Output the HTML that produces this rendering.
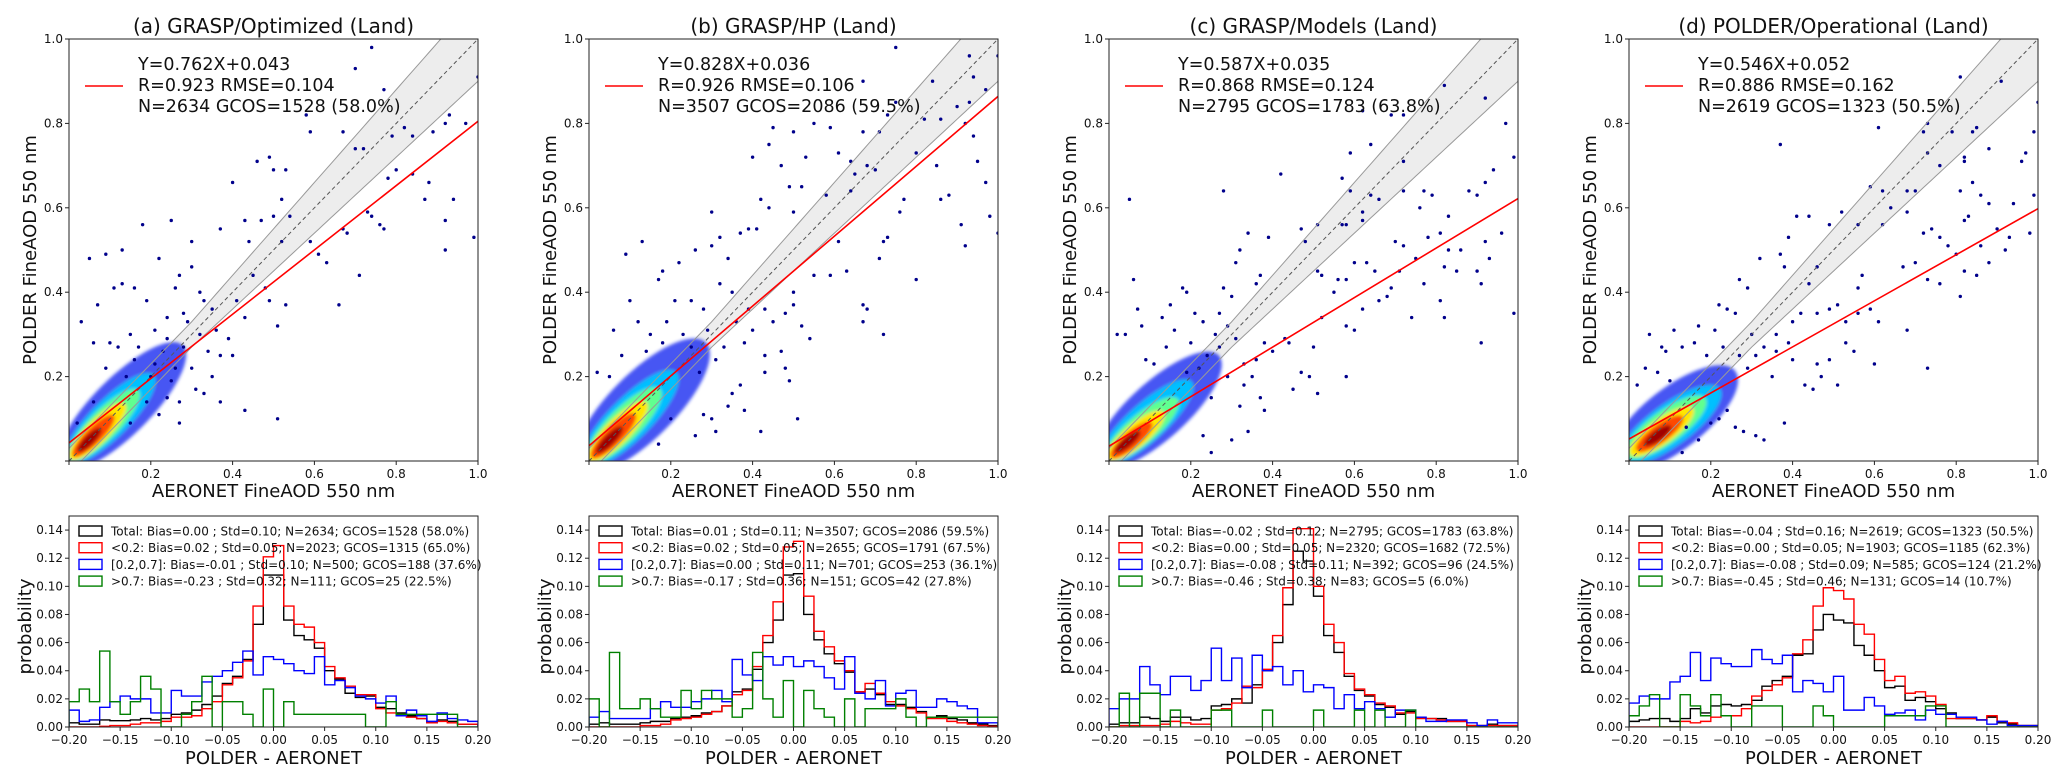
<!DOCTYPE html>
<html><head><meta charset="utf-8">
<style>
html,body{margin:0;padding:0;background:#fff;}
svg{display:block;font-family:"DejaVu Sans","Liberation Sans",sans-serif;}
</style></head>
<body>
<svg id="fig" width="2067" height="781" viewBox="0 0 2067 781" xmlns="http://www.w3.org/2000/svg">
<defs><filter id="blur" x="-20%" y="-20%" width="140%" height="140%"><feGaussianBlur stdDeviation="1.5"/></filter></defs>
</svg>
<script>
// ---------- data ----------
const titles = ["(a) GRASP/Optimized (Land)","(b) GRASP/HP (Land)","(c) GRASP/Models (Land)","(d) POLDER/Operational (Land)"];
const fitSlope = [0.762,0.828,0.587,0.546];
const fitIntercept = [0.043,0.036,0.035,0.052];
const statLine1 = ["Y=0.762X+0.043","Y=0.828X+0.036","Y=0.587X+0.035","Y=0.546X+0.052"];
const statLine2 = ["R=0.923  RMSE=0.104","R=0.926  RMSE=0.106","R=0.868  RMSE=0.124","R=0.886  RMSE=0.162"];
const statLine3 = ["N=2634 GCOS=1528 (58.0%)","N=3507 GCOS=2086 (59.5%)","N=2795 GCOS=1783 (63.8%)","N=2619 GCOS=1323 (50.5%)"];
const scatterTicks = [0.2,0.4,0.6,0.8,1.0];
const scatterTickLabels = ["0.2","0.4","0.6","0.8","1.0"];
// density core layers: [cx, cy, halfLength, halfWidth, angleDeg]
const coreA = [[0.13,0.13,0.21,0.07,45],[0.10,0.10,0.15,0.045,45],[0.085,0.085,0.12,0.036,45],[0.07,0.07,0.095,0.028,45],[0.06,0.06,0.07,0.02,45],[0.05,0.05,0.04,0.012,45]];
const coreB = [[0.13,0.13,0.22,0.08,45],[0.10,0.10,0.16,0.05,45],[0.085,0.085,0.125,0.04,45],[0.07,0.07,0.10,0.03,45],[0.06,0.06,0.075,0.022,45],[0.05,0.05,0.045,0.013,45]];
const coreC = [[0.12,0.12,0.20,0.07,42],[0.09,0.09,0.15,0.045,42],[0.08,0.075,0.115,0.036,40],[0.065,0.06,0.09,0.028,40],[0.055,0.05,0.065,0.02,40],[0.045,0.045,0.04,0.012,40]];
const coreD = [[0.11,0.10,0.19,0.075,38],[0.10,0.085,0.15,0.05,36],[0.09,0.08,0.12,0.04,36],[0.08,0.07,0.095,0.03,36],[0.075,0.065,0.07,0.022,36],[0.07,0.06,0.04,0.013,36]];
const pointsA = [[0.74,0.98],[0.77,0.88],[0.70,0.93],[0.58,0.82],[0.59,0.78],[0.67,0.78],[0.70,0.74],[0.72,0.74],[0.79,0.77],[0.82,0.79],[0.84,0.77],[0.89,0.78],[0.92,0.80],[0.93,0.82],[0.97,0.80],[1.0,0.91],[0.99,0.53],[0.92,0.57],[0.92,0.50],[0.94,0.62],[0.87,0.62],[0.78,0.67],[0.80,0.69],[0.88,0.66],[0.84,0.68],[0.76,0.56],[0.77,0.55],[0.74,0.58],[0.73,0.59],[0.68,0.54],[0.67,0.55],[0.71,0.44],[0.66,0.37],[0.61,0.49],[0.59,0.52],[0.63,0.47],[0.52,0.62],[0.54,0.58],[0.50,0.69],[0.53,0.69],[0.46,0.71],[0.49,0.72],[0.40,0.66],[0.37,0.55],[0.43,0.57],[0.50,0.58],[0.47,0.57],[0.44,0.52],[0.52,0.52],[0.48,0.41],[0.45,0.44],[0.49,0.38],[0.53,0.37],[0.51,0.32],[0.41,0.38],[0.43,0.34],[0.39,0.29],[0.36,0.31],[0.30,0.52],[0.30,0.46],[0.25,0.57],[0.18,0.56],[0.13,0.50],[0.09,0.49],[0.05,0.48],[0.22,0.48],[0.27,0.44],[0.26,0.41],[0.16,0.41],[0.11,0.41],[0.07,0.37],[0.13,0.42],[0.32,0.40],[0.33,0.38],[0.35,0.36],[0.29,0.33],[0.28,0.35],[0.24,0.34],[0.21,0.31],[0.19,0.38],[0.15,0.30],[0.03,0.33],[0.06,0.28],[0.10,0.28],[0.43,0.12],[0.51,0.10],[0.37,0.14],[0.31,0.17],[0.33,0.16],[0.27,0.14],[0.24,0.15],[0.25,0.19],[0.35,0.20],[0.30,0.22],[0.37,0.25],[0.40,0.25],[0.21,0.23],[0.23,0.26],[0.16,0.24],[0.19,0.14],[0.22,0.11],[0.15,0.09],[0.27,0.09],[0.06,0.14],[0.02,0.09],[0.12,0.27],[0.17,0.27],[0.20,0.20],[0.26,0.22],[0.28,0.27],[0.32,0.30],[0.34,0.26],[0.24,0.29],[0.09,0.22],[0.14,0.20]];
const pointsB = [[0.75,0.98],[0.93,0.96],[1.0,0.96],[0.94,0.91],[0.84,0.90],[0.97,0.88],[0.67,0.90],[0.73,0.82],[0.82,0.81],[0.86,0.81],[0.90,0.84],[0.93,0.85],[0.92,0.80],[0.75,0.85],[0.71,0.78],[0.67,0.78],[0.59,0.79],[0.55,0.80],[0.50,0.78],[0.45,0.79],[0.44,0.75],[0.40,0.72],[0.53,0.72],[0.61,0.73],[0.64,0.71],[0.47,0.70],[0.65,0.68],[0.68,0.70],[0.70,0.69],[0.94,0.77],[0.95,0.71],[0.97,0.66],[0.98,0.58],[1.0,0.54],[0.91,0.56],[0.92,0.51],[0.77,0.62],[0.76,0.59],[0.86,0.62],[0.88,0.63],[0.85,0.70],[0.80,0.73],[0.64,0.64],[0.58,0.63],[0.52,0.65],[0.49,0.65],[0.42,0.62],[0.44,0.60],[0.50,0.59],[0.30,0.59],[0.32,0.53],[0.39,0.55],[0.41,0.55],[0.37,0.54],[0.34,0.48],[0.30,0.51],[0.22,0.47],[0.26,0.50],[0.13,0.52],[0.09,0.49],[0.18,0.45],[0.17,0.43],[0.63,0.45],[0.59,0.44],[0.55,0.44],[0.73,0.53],[0.72,0.52],[0.71,0.48],[0.61,0.52],[0.80,0.43],[0.72,0.30],[0.67,0.37],[0.68,0.36],[0.67,0.33],[0.54,0.29],[0.52,0.32],[0.50,0.37],[0.50,0.40],[0.48,0.35],[0.45,0.33],[0.43,0.36],[0.39,0.36],[0.47,0.26],[0.43,0.25],[0.48,0.22],[0.49,0.19],[0.51,0.10],[0.43,0.21],[0.37,0.18],[0.35,0.16],[0.38,0.12],[0.42,0.07],[0.34,0.13],[0.31,0.07],[0.30,0.10],[0.26,0.06],[0.28,0.11],[0.20,0.10],[0.17,0.04],[0.25,0.38],[0.28,0.36],[0.32,0.42],[0.35,0.40],[0.21,0.38],[0.06,0.31],[0.10,0.38],[0.12,0.33],[0.02,0.21],[0.05,0.20],[0.15,0.30],[0.19,0.33],[0.23,0.30],[0.38,0.28],[0.40,0.31],[0.33,0.27],[0.14,0.26],[0.18,0.28],[0.25,0.27],[0.29,0.31],[0.36,0.33],[0.08,0.25],[0.27,0.21],[0.31,0.24]];
const pointsC = [[0.82,0.89],[0.92,0.86],[0.72,0.82],[0.69,0.82],[0.62,0.83],[0.97,0.80],[0.64,0.75],[0.59,0.73],[0.99,0.72],[0.72,0.71],[0.42,0.68],[0.57,0.67],[0.94,0.69],[0.92,0.66],[0.59,0.64],[0.28,0.64],[0.64,0.63],[0.66,0.62],[0.72,0.64],[0.77,0.64],[0.79,0.63],[0.88,0.64],[0.90,0.63],[0.76,0.60],[0.62,0.59],[0.62,0.57],[0.57,0.56],[0.58,0.56],[0.83,0.58],[0.81,0.54],[0.51,0.56],[0.47,0.55],[0.34,0.54],[0.39,0.53],[0.48,0.52],[0.70,0.52],[0.72,0.51],[0.78,0.53],[0.83,0.50],[0.86,0.50],[0.92,0.52],[0.96,0.54],[0.93,0.48],[0.90,0.45],[0.85,0.45],[0.82,0.46],[0.75,0.48],[0.71,0.45],[0.65,0.45],[0.63,0.47],[0.60,0.47],[0.51,0.45],[0.52,0.44],[0.31,0.47],[0.32,0.50],[0.36,0.42],[0.37,0.44],[0.55,0.40],[0.56,0.43],[0.58,0.43],[0.69,0.41],[0.77,0.42],[0.91,0.42],[0.81,0.38],[0.99,0.35],[0.91,0.28],[0.82,0.34],[0.74,0.34],[0.66,0.38],[0.68,0.39],[0.62,0.36],[0.60,0.31],[0.58,0.32],[0.58,0.20],[0.51,0.16],[0.45,0.17],[0.47,0.21],[0.49,0.20],[0.52,0.34],[0.50,0.27],[0.44,0.28],[0.43,0.29],[0.40,0.26],[0.36,0.24],[0.38,0.28],[0.33,0.23],[0.35,0.20],[0.37,0.15],[0.38,0.12],[0.32,0.13],[0.30,0.05],[0.34,0.07],[0.25,0.02],[0.23,0.06],[0.27,0.35],[0.28,0.41],[0.19,0.40],[0.18,0.41],[0.15,0.37],[0.06,0.43],[0.05,0.62],[0.07,0.36],[0.02,0.30],[0.04,0.30],[0.08,0.32],[0.13,0.34],[0.21,0.35],[0.23,0.33],[0.26,0.30],[0.24,0.25],[0.30,0.39],[0.29,0.32],[0.11,0.23],[0.09,0.24],[0.20,0.28],[0.16,0.31],[0.27,0.27],[0.31,0.29],[0.22,0.22],[0.29,0.20],[0.25,0.15],[0.33,0.18],[0.14,0.27],[0.19,0.21]];
const pointsD = [[0.81,0.91],[0.91,0.90],[1.0,0.85],[0.73,0.80],[0.61,0.79],[0.72,0.78],[0.79,0.78],[0.84,0.78],[0.85,0.79],[0.99,0.78],[0.37,0.75],[0.88,0.74],[0.73,0.73],[0.97,0.73],[0.96,0.71],[0.76,0.70],[0.82,0.72],[0.82,0.71],[0.59,0.65],[0.62,0.64],[0.70,0.64],[0.68,0.64],[0.81,0.64],[0.84,0.66],[0.86,0.63],[0.94,0.61],[0.99,0.63],[0.88,0.61],[0.64,0.60],[0.68,0.59],[0.44,0.58],[0.41,0.58],[0.52,0.59],[0.49,0.56],[0.56,0.56],[0.62,0.56],[0.72,0.54],[0.74,0.55],[0.76,0.53],[0.82,0.57],[0.83,0.58],[0.90,0.55],[0.93,0.53],[0.98,0.54],[0.78,0.51],[0.80,0.49],[0.86,0.51],[0.92,0.50],[0.88,0.47],[0.85,0.44],[0.81,0.39],[0.82,0.45],[0.73,0.43],[0.76,0.42],[0.70,0.47],[0.67,0.46],[0.73,0.22],[0.68,0.31],[0.60,0.23],[0.55,0.26],[0.53,0.28],[0.51,0.18],[0.49,0.24],[0.47,0.20],[0.46,0.23],[0.45,0.17],[0.43,0.18],[0.40,0.24],[0.38,0.09],[0.35,0.20],[0.33,0.05],[0.31,0.06],[0.28,0.07],[0.26,0.08],[0.24,0.12],[0.22,0.10],[0.20,0.09],[0.17,0.05],[0.14,0.08],[0.13,0.02],[0.37,0.49],[0.38,0.46],[0.39,0.53],[0.32,0.48],[0.27,0.43],[0.29,0.41],[0.22,0.37],[0.24,0.36],[0.26,0.35],[0.17,0.32],[0.21,0.31],[0.11,0.31],[0.05,0.30],[0.09,0.26],[0.08,0.27],[0.13,0.27],[0.16,0.28],[0.46,0.35],[0.49,0.36],[0.51,0.37],[0.53,0.33],[0.56,0.35],[0.59,0.36],[0.61,0.33],[0.56,0.41],[0.57,0.44],[0.46,0.46],[0.44,0.42],[0.42,0.35],[0.40,0.33],[0.36,0.30],[0.33,0.27],[0.30,0.30],[0.31,0.25],[0.29,0.22],[0.27,0.25],[0.36,0.26],[0.39,0.28],[0.02,0.18],[0.04,0.22],[0.07,0.21],[0.10,0.19],[0.19,0.25],[0.23,0.27]];

// histogram data (bins of 0.01 from -0.20 to 0.20)
const histTicksX = [-0.20,-0.15,-0.10,-0.05,0.00,0.05,0.10,0.15,0.20];
const histTickLabelsX = ["\u22120.20","\u22120.15","\u22120.10","\u22120.05","0.00","0.05","0.10","0.15","0.20"];
const histTicksY = [0.00,0.02,0.04,0.06,0.08,0.10,0.12,0.14];
const histTickLabelsY = ["0.00","0.02","0.04","0.06","0.08","0.10","0.12","0.14"];
const totalA = [0.003,0.002,0.002,0.005,0.0045,0.0045,0.005,0.006,0.005,0.006,0.009,0.010,0.012,0.016,0.022,0.031,0.036,0.048,0.073,0.108,0.108,0.076,0.065,0.062,0.056,0.040,0.034,0.024,0.021,0.022,0.014,0.013,0.010,0.008,0.006,0.003,0.005,0.004,0.002,0.002];
const lowA = [0,0,0,0.0005,0.001,0.001,0.002,0.003,0.003,0.004,0.007,0.007,0.008,0.013,0.018,0.030,0.035,0.047,0.086,0.121,0.129,0.086,0.073,0.071,0.060,0.043,0.035,0.029,0.023,0.023,0.013,0.010,0.009,0.007,0.006,0.003,0.004,0.003,0.002,0.002];
const midA = [0.012,0.004,0.005,0.014,0.018,0.022,0.020,0.020,0.010,0.010,0.026,0.022,0.022,0.032,0.036,0.040,0.046,0.054,0.037,0.050,0.048,0.045,0.040,0.038,0.050,0.030,0.033,0.028,0.022,0.020,0.017,0.022,0.008,0.012,0.008,0.004,0.010,0.006,0.005,0.004];
const highA = [0.018,0.027,0.018,0.054,0.018,0.009,0.018,0.036,0.027,0,0,0.009,0.018,0.036,0,0.018,0.018,0.009,0,0.027,0,0.018,0.009,0.009,0.009,0.009,0.009,0.009,0.009,0,0,0.018,0.009,0.009,0.009,0.009,0.009,0.009,0,0];
const totalB = [0.002,0.003,0.002,0.002,0.002,0.003,0.004,0.004,0.006,0.007,0.008,0.010,0.011,0.015,0.025,0.027,0.041,0.060,0.076,0.108,0.109,0.080,0.062,0.052,0.045,0.039,0.025,0.027,0.023,0.016,0.016,0.014,0.011,0.007,0.008,0.006,0.005,0.003,0.002,0.001];
const lowB = [0,0,0,0,0,0.001,0.001,0.002,0.005,0.006,0.007,0.009,0.011,0.015,0.023,0.026,0.043,0.065,0.089,0.128,0.132,0.093,0.068,0.057,0.047,0.040,0.025,0.031,0.024,0.018,0.015,0.013,0.010,0.006,0.006,0.004,0.003,0.002,0.001,0.0005];
const midB = [0.007,0.011,0.006,0.006,0.006,0.006,0.013,0.018,0.014,0.014,0.018,0.020,0.026,0.018,0.048,0.037,0.033,0.050,0.044,0.050,0.043,0.047,0.043,0.035,0.027,0.050,0.024,0.020,0.033,0.015,0.024,0.026,0.014,0.014,0.020,0.018,0.015,0.013,0.003,0.003];
const highB = [0.020,0,0.053,0.013,0.013,0.020,0.013,0.007,0.007,0.026,0.013,0.026,0.020,0.020,0.007,0.013,0.053,0.020,0.007,0.033,0,0.026,0.013,0.007,0,0.020,0,0.013,0.013,0.013,0.020,0.007,0,0.007,0.007,0.007,0.007,0.007,0.007,0.007];
const totalC = [0.002,0.003,0.003,0.007,0.006,0.004,0.007,0.007,0.005,0.006,0.015,0.016,0.020,0.017,0.030,0.040,0.060,0.087,0.125,0.118,0.093,0.065,0.053,0.036,0.026,0.022,0.016,0.014,0.009,0.011,0.007,0.006,0.006,0.004,0.004,0.001,0.001,0.002,0.001,0.001];
const lowC = [0,0.001,0.001,0.001,0.001,0.002,0.004,0.003,0.002,0.002,0.012,0.013,0.017,0.029,0.028,0.041,0.065,0.099,0.141,0.141,0.100,0.073,0.060,0.038,0.027,0.023,0.017,0.015,0.010,0.010,0.006,0.006,0.005,0.004,0.004,0.001,0.001,0.001,0.001,0.001];
const midC = [0.013,0.020,0.020,0.043,0.030,0.023,0.036,0.036,0.026,0.033,0.056,0.033,0.049,0.028,0.051,0.040,0.043,0.030,0.040,0.025,0.030,0.028,0.013,0.023,0.013,0.018,0.013,0.007,0.012,0.012,0.007,0.004,0.004,0.005,0.005,0.003,0.001,0.005,0.003,0.003];
const highC = [0,0.024,0,0.024,0.024,0,0.012,0,0,0,0.012,0.012,0,0,0,0.012,0,0,0,0,0.012,0,0,0,0.012,0,0.012,0,0,0.012,0,0,0,0,0,0,0,0,0,0];
const totalD = [0.004,0.005,0.006,0.006,0.004,0.006,0.013,0.010,0.015,0.016,0.015,0.016,0.019,0.029,0.033,0.036,0.051,0.052,0.069,0.080,0.076,0.074,0.058,0.051,0.040,0.028,0.029,0.019,0.021,0.018,0.013,0.010,0.006,0.006,0.005,0.007,0.003,0.002,0.001,0.001];
const lowD = [0,0,0,0,0,0.004,0.003,0.004,0.007,0.008,0.008,0.013,0.022,0.026,0.030,0.035,0.052,0.062,0.086,0.099,0.097,0.091,0.073,0.066,0.048,0.033,0.036,0.024,0.025,0.022,0.016,0.006,0.006,0.006,0.005,0.008,0.004,0.003,0.001,0.001];
const midD = [0.017,0.022,0.020,0.020,0.032,0.036,0.053,0.033,0.049,0.045,0.043,0.043,0.055,0.048,0.045,0.051,0.025,0.033,0.031,0.025,0.036,0.012,0.012,0.021,0.015,0.009,0.010,0.012,0.005,0.012,0.009,0.009,0.007,0.007,0.005,0.002,0.004,0.001,0.001,0.001];
const highD = [0.008,0.015,0.023,0,0,0.023,0.015,0.008,0.023,0.008,0,0,0.015,0.015,0.015,0,0,0,0.015,0.008,0,0,0,0,0,0.008,0.008,0.008,0.008,0.015,0.015,0,0,0,0,0,0,0,0,0];
const legendTexts = [
 ["Total: Bias=0.00 ; Std=0.10; N=2634; GCOS=1528 (58.0%)","<0.2: Bias=0.02 ; Std=0.05; N=2023; GCOS=1315 (65.0%)","[0.2,0.7]: Bias=-0.01 ; Std=0.10; N=500; GCOS=188 (37.6%)",">0.7: Bias=-0.23 ; Std=0.32; N=111; GCOS=25 (22.5%)"],
 ["Total: Bias=0.01 ; Std=0.11; N=3507; GCOS=2086 (59.5%)","<0.2: Bias=0.02 ; Std=0.05; N=2655; GCOS=1791 (67.5%)","[0.2,0.7]: Bias=0.00 ; Std=0.11; N=701; GCOS=253 (36.1%)",">0.7: Bias=-0.17 ; Std=0.36; N=151; GCOS=42 (27.8%)"],
 ["Total: Bias=-0.02 ; Std=0.12; N=2795; GCOS=1783 (63.8%)","<0.2: Bias=0.00 ; Std=0.05; N=2320; GCOS=1682 (72.5%)","[0.2,0.7]: Bias=-0.08 ; Std=0.11; N=392; GCOS=96 (24.5%)",">0.7: Bias=-0.46 ; Std=0.38; N=83; GCOS=5 (6.0%)"],
 ["Total: Bias=-0.04 ; Std=0.16; N=2619; GCOS=1323 (50.5%)","<0.2: Bias=0.00 ; Std=0.05; N=1903; GCOS=1185 (62.3%)","[0.2,0.7]: Bias=-0.08 ; Std=0.09; N=585; GCOS=124 (21.2%)",">0.7: Bias=-0.45 ; Std=0.46; N=131; GCOS=14 (10.7%)"]
];

// ---------- rendering ----------
const NS = "http://www.w3.org/2000/svg";
const svg = document.getElementById("fig");
function mk(tag, attrs, parent, text){
  const e = document.createElementNS(NS, tag);
  for (const k in attrs) e.setAttribute(k, attrs[k]);
  if (text !== undefined) e.textContent = text;
  (parent || svg).appendChild(e);
  return e;
}
const panelLeft = [69,589,1109,1629];
const PW = 409;
const sTop = 39, sBot = 461;
const hTop = 516, hBot = 727;
const cores = [coreA,coreB,coreC,coreD];
const pts = [pointsA,pointsB,pointsC,pointsD];
const hists = [[totalA,lowA,midA,highA],[totalB,lowB,midB,highB],[totalC,lowC,midC,highC],[totalD,lowD,midD,highD]];
const coreColors = ["#1a2cf0","#00c0ff","#60ff90","#ffe600","#ff4a00","#a00000"];
const coreOpac = [0.8,1,1,1,1,1];
const histColors = ["#000000","#ff0000","#0000ff","#008000"];
const histNames = ["total","low-aod","mid-aod","high-aod"];
const panelIds = ["a","b","c","d"];

for (let p=0;p<4;p++){
  const L = panelLeft[p];
  const sx = v => L + v*PW;
  const sy = v => sBot - v*(sBot-sTop);
  const g = mk("g",{});
  
  
  const clipId = "clip"+p;
  const cp = mk("clipPath",{id:clipId},g);
  mk("rect",{x:L,y:sTop,width:PW,height:sBot-sTop},cp);
  const inner = mk("g",{"clip-path":"url(#"+clipId+")"},g);
  const up = x => x + Math.max(0.03, 0.1*x), lo = x => x - Math.max(0.03, 0.1*x);
  const xs = []; for (let i=0;i<=100;i++) xs.push(i/100);
  let d = "M"+xs.map(x=>sx(x)+","+sy(up(x))).join(" L");
  d += " L"+xs.slice().reverse().map(x=>sx(x)+","+sy(lo(x))).join(" L")+" Z";
  const band = mk("path",{d:d,fill:"#ededed",stroke:"none"},inner);
  
  
  const cg = mk("g",{filter:"url(#blur)"},inner);
  
  
  cores[p].forEach((c,i)=>{
    mk("ellipse",{cx:sx(c[0]),cy:sy(c[1]),rx:c[2]*PW,ry:c[3]*PW,fill:coreColors[i],"fill-opacity":coreOpac[i],transform:"rotate("+(-c[4])+" "+sx(c[0])+" "+sy(c[1])+")"},cg);
  });
  pts[p].forEach(pt=>{
    const c = mk("circle",{cx:sx(pt[0]),cy:sy(pt[1]),r:1.7,fill:"#00008b"},inner);
    
    
  });
  mk("path",{d:"M"+xs.map(x=>sx(x)+","+sy(up(x))).join(" L"),fill:"none",stroke:"#999","stroke-width":1},inner);
  mk("path",{d:"M"+xs.map(x=>sx(x)+","+sy(lo(x))).join(" L"),fill:"none",stroke:"#999","stroke-width":1},inner);
  const one = mk("line",{x1:sx(0),y1:sy(0),x2:sx(1),y2:sy(1),stroke:"#555","stroke-width":1,"stroke-dasharray":"4,3"},inner);
  
  
  const fit = mk("line",{x1:sx(0),y1:sy(fitIntercept[p]),x2:sx(1),y2:sy(fitSlope[p]+fitIntercept[p]),stroke:"#ff0000","stroke-width":1.6},inner);
  
  
  mk("rect",{x:L,y:sTop,width:PW,height:sBot-sTop,fill:"none",stroke:"#222","stroke-width":1},g);
  scatterTicks.forEach((t,i)=>{
    mk("line",{x1:sx(t),y1:sBot,x2:sx(t),y2:sBot+4,stroke:"#222"},g);
    const tx = mk("text",{x:sx(t),y:sBot+17,"font-size":12,"text-anchor":"middle",fill:"#111"},g,scatterTickLabels[i]);
    
    
    mk("line",{x1:L-4,y1:sy(t),x2:L,y2:sy(t),stroke:"#222"},g);
    const ty = mk("text",{x:L-6,y:sy(t)+4,"font-size":12,"text-anchor":"end",fill:"#111"},g,scatterTickLabels[i]);
    
    
  });
  mk("line",{x1:L,y1:sBot,x2:L,y2:sBot+4,stroke:"#222"},g);
  mk("line",{x1:L-4,y1:sBot,x2:L,y2:sBot,stroke:"#222"},g);
  const ti = mk("text",{x:L+PW/2,y:33,"font-size":20,"text-anchor":"middle",fill:"#111"},g,titles[p]);
  
  
  const xl = mk("text",{x:L+PW/2,y:497,"font-size":18,"text-anchor":"middle",fill:"#111"},g,"AERONET FineAOD 550 nm");
  
  
  const yl = mk("text",{x:0,y:0,"font-size":18,"text-anchor":"middle",fill:"#111",transform:"translate("+(L-33)+","+((sTop+sBot)/2)+") rotate(-90)"},g,"POLDER FineAOD 550 nm");
  
  
  const lg = mk("line",{x1:L+16,y1:86,x2:L+54,y2:86,stroke:"#ff0000","stroke-width":1.6},g);
  
  
  [statLine1[p],statLine2[p],statLine3[p]].forEach((s,i)=>{
    const t = mk("text",{x:L+69,y:70+i*21,"font-size":17.5,fill:"#111","xml:space":"preserve"},g,s);
    
    
  });

  const hx = v => L + (v+0.2)/0.4*PW;
  const hy = v => hBot - v/0.15*(hBot-hTop);
  const hg = mk("g",{});
  
  
  const hcId = "hclip"+p;
  const hcp = mk("clipPath",{id:hcId},hg);
  mk("rect",{x:L,y:hTop,width:PW,height:hBot-hTop},hcp);
  const hin = mk("g",{"clip-path":"url(#"+hcId+")"},hg);
  hists[p].forEach((arr,si)=>{
    let dd = "M"+hx(-0.2)+","+hy(0);
    arr.forEach((v,i)=>{
      const x0 = -0.2+i*0.01, x1 = x0+0.01;
      dd += " L"+hx(x0)+","+hy(v)+" L"+hx(x1)+","+hy(v);
    });
    dd += " L"+hx(0.2)+","+hy(0);
    const path = mk("path",{d:dd,fill:"none",stroke:histColors[si],"stroke-width":1.4},hin);
    
    
  });
  mk("rect",{x:L,y:hTop,width:PW,height:hBot-hTop,fill:"none",stroke:"#222","stroke-width":1},hg);
  histTicksX.forEach((t,i)=>{
    mk("line",{x1:hx(t),y1:hBot,x2:hx(t),y2:hBot+4,stroke:"#222"},hg);
    const tx = mk("text",{x:hx(t),y:hBot+17,"font-size":12,"text-anchor":"middle",fill:"#111"},hg,histTickLabelsX[i]);
    
    
  });
  histTicksY.forEach((t,i)=>{
    mk("line",{x1:L-4,y1:hy(t),x2:L,y2:hy(t),stroke:"#222"},hg);
    const ty = mk("text",{x:L-6,y:hy(t)+4,"font-size":12,"text-anchor":"end",fill:"#111"},hg,histTickLabelsY[i]);
    
    
  });
  const hxl = mk("text",{x:L+PW/2,y:764,"font-size":18,"text-anchor":"middle",fill:"#111"},hg,"POLDER - AERONET");
  
  
  const hyl = mk("text",{x:0,y:0,"font-size":18,"text-anchor":"middle",fill:"#111",transform:"translate("+(L-38)+","+((hTop+hBot)/2+5)+") rotate(-90)"},hg,"probability");
  
  
  legendTexts[p].forEach((s,i)=>{
    const yy = 531 + i*16.7;
    const r = mk("rect",{x:L+10,y:yy-5,width:23,height:10,fill:"none",stroke:histColors[i],"stroke-width":1.4},hg);
    
    
    const t = mk("text",{x:L+42,y:yy+4.5,"font-size":12,fill:"#111"},hg,s);
    
    
  });
}
</script>
</body></html>
